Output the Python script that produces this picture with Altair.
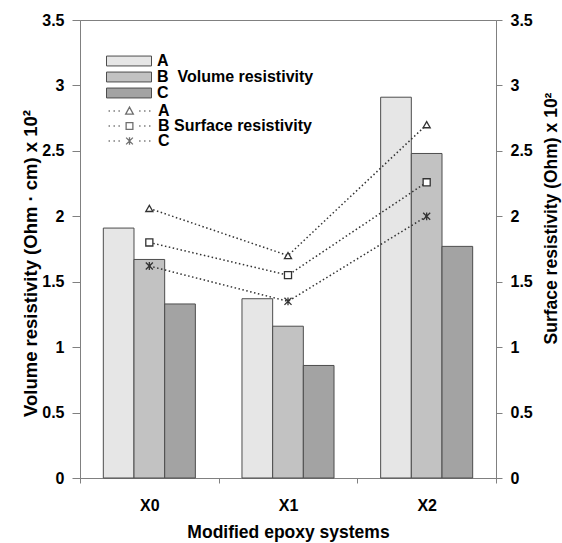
import altair as alt
import pandas as pd

# ---- data ----
systems = ["X0", "X1", "X2"]
samples = ["A", "B", "C"]
volume_A = [1.91, 1.37, 2.91]
volume_B = [1.67, 1.16, 2.48]
volume_C = [1.33, 0.86, 1.77]
surface_A = [2.06, 1.70, 2.70]
surface_B = [1.80, 1.55, 2.26]
surface_C = [1.62, 1.35, 2.00]
axis_values = [0, 0.5, 1, 1.5, 2, 2.5, 3, 3.5]
volume_label = "Volume resistivity"
surface_label = "Surface resistivity"

volume = {"A": volume_A, "B": volume_B, "C": volume_C}
surface = {"A": surface_A, "B": surface_B, "C": surface_C}

bar_df = pd.DataFrame(
    [{"system": s, "sample": k, "volume": volume[k][i]} for k in samples for i, s in enumerate(systems)]
)
line_df = pd.DataFrame(
    [{"system": s, "sample": k, "surface": surface[k][i]} for k in samples for i, s in enumerate(systems)]
)

FONT = "Liberation Sans"
bar_colors = ["#e6e6e6", "#c2c2c2", "#a3a3a3"]
marker_shapes = ["triangle-up", "square", "M-1,-1L1,1M1,-1L-1,1M0,-1.1V1.1"]

dots = "M-0.93,0h0.06M-0.71,0h0.06M-0.49,0h0.06M0.43,0h0.06M0.65,0h0.06M0.87,0h0.06"
legend_line_shapes = [
    dots + "M-0.17,0.14L0,-0.17L0.17,0.14Z",
    dots + "M-0.15,-0.15H0.15V0.15H-0.15Z",
    dots + "M-0.15,-0.15L0.15,0.15M0.15,-0.15L-0.15,0.15M0,-0.17V0.17",
]

x_enc = alt.X(
    "system:N",
    sort=systems,
    scale=alt.Scale(domain=systems, paddingInner=0, paddingOuter=0),
    axis=alt.Axis(
        title="Modified epoxy systems", labelAngle=0, tickBand="extent",
        tickSize=5, labelPadding=14, titlePadding=10,
        labelFontSize=16, titleFontSize=17.5,
    ),
)

bars = alt.Chart(bar_df).mark_bar(stroke="#4d4d4d", strokeWidth=1).encode(
    x=x_enc,
    xOffset=alt.XOffset("sample:N", sort=samples,
                        scale=alt.Scale(domain=samples, paddingOuter=0.76, paddingInner=0)),
    y=alt.Y("volume:Q", scale=alt.Scale(domain=[0, 3.5], nice=False),
            axis=alt.Axis(orient="left", values=axis_values, format="~g",
                          title="Volume resistivity (Ohm \u00b7 cm) x 10\u00b2",
                          tickSize=8, labelPadding=8, labelFontSize=16, titleFontSize=18.5,
                          titleAngle=270, titleX=-50, titleY=243,
                          titleAlign="center", titleBaseline="middle")),
    fill=alt.Fill("sample:N", sort=samples,
                  scale=alt.Scale(domain=samples, range=bar_colors),
                  legend=alt.Legend(
                      title=None, orient="none", legendX=26, legendY=34,
                      symbolType="M-1,-0.22H1V0.22H-1Z", symbolSize=2025,
                      symbolStrokeColor="#4d4d4d", symbolStrokeWidth=1,
                      clipHeight=14, rowPadding=0, labelOffset=5,
                      labelExpr="datum.label == 'B' ? 'B\u00a0\u00a0" + volume_label + "' : datum.label",
                  )),
)

y_surf = alt.Y("surface:Q", scale=alt.Scale(domain=[0, 3.5], nice=False),
               axis=alt.Axis(orient="right", values=axis_values, format="~g",
                             title="Surface resistivity (Ohm) x 10\u00b2",
                             tickSize=6, labelPadding=8, labelFontSize=16, titleFontSize=17.5,
                             titleAngle=270, titleX=55, titleY=198,
                             titleAlign="center", titleBaseline="middle"))

lines = alt.Chart(line_df).mark_line(
    color="#333333", strokeWidth=1.5, strokeDash=[1.5, 2.5]
).encode(x=x_enc, y=y_surf, detail="sample:N")

points = alt.Chart(line_df).mark_point(
    filled=True, fill="white", stroke="#333333", strokeWidth=1.3, size=50, opacity=1
).encode(
    x=x_enc,
    y=alt.Y("surface:Q", scale=alt.Scale(domain=[0, 3.5], nice=False), axis=None),
    shape=alt.Shape("sample:N", sort=samples,
                    scale=alt.Scale(domain=samples, range=marker_shapes), legend=None),
)

legend_layer = alt.Chart(line_df).transform_filter("false").mark_point(
    filled=False, color="#333333", strokeWidth=1.3
).encode(
    shape=alt.Shape("sample:N", sort=samples,
                    scale=alt.Scale(domain=samples, range=legend_line_shapes),
                    legend=alt.Legend(
                        title=None, orient="none", legendX=26, legendY=84,
                        symbolSize=2025, symbolStrokeColor="#333333", symbolStrokeWidth=1.3,
                        symbolFillColor="white",
                        clipHeight=14, rowPadding=-1.5, labelOffset=5,
                        labelExpr="datum.label == 'B' ? 'B\u00a0" + surface_label + "' : datum.label",
                    )),
)

chart = alt.layer(bars, lines, points, legend_layer).resolve_scale(
    y="independent", shape="independent"
).properties(
    width=416, height=458,
    autosize=alt.AutoSizeParams(type="none"),
    padding={"left": 80, "top": 20, "right": 66, "bottom": 65},
).configure(font=FONT).configure_axis(
    labelFont=FONT, labelFontWeight="bold", labelColor="black",
    titleFont=FONT, titleFontWeight="bold", titleColor="black",
    domainColor="#808080", tickColor="#808080", grid=False,
).configure_legend(
    labelFont=FONT, labelFontWeight="bold", labelFontSize=16, labelColor="black",
    padding=0,
).configure_view(stroke="#808080", strokeWidth=1)

chart.save("out.html", embed_options={"renderer": "svg", "actions": False})
